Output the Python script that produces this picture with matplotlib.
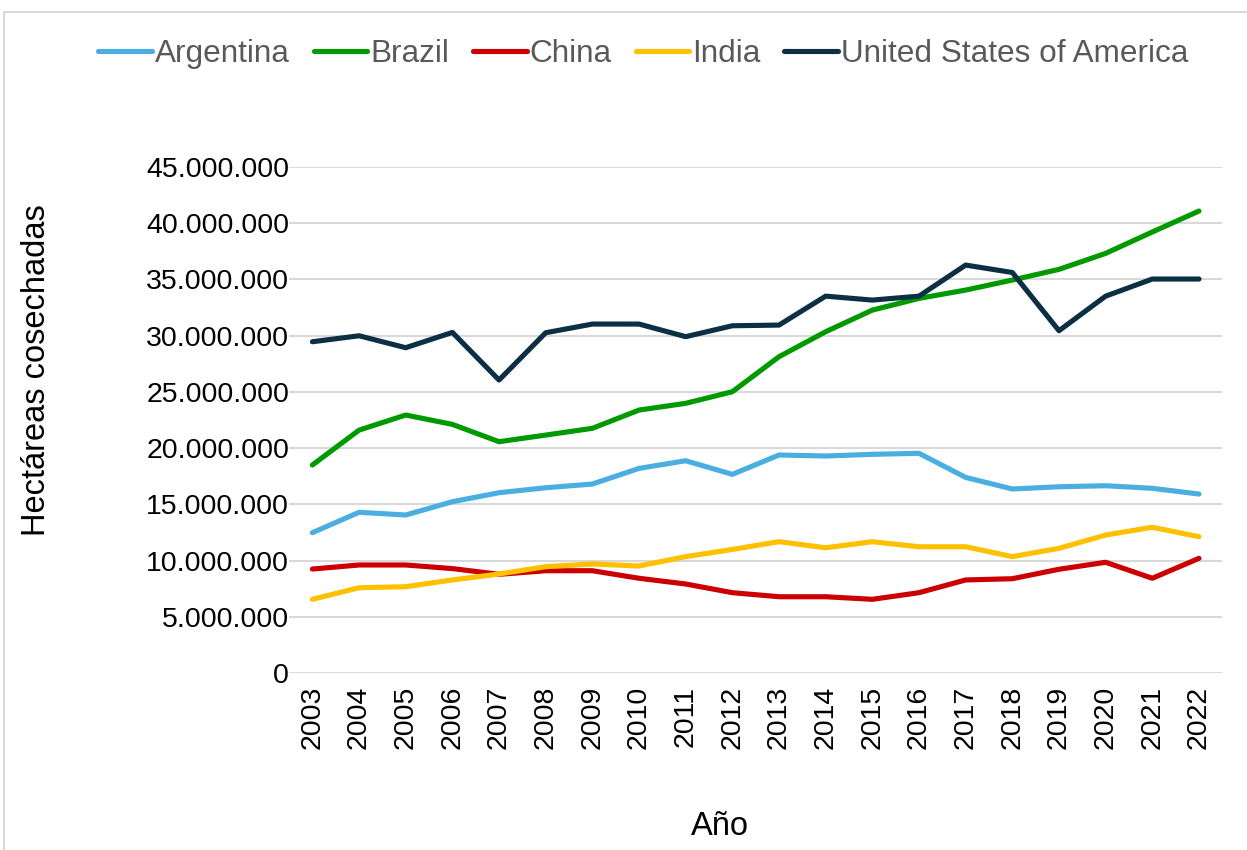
import matplotlib
matplotlib.use("Agg")
import matplotlib.pyplot as plt
from matplotlib.patches import Rectangle
from matplotlib.ticker import FuncFormatter

plt.rcParams['font.family'] = ['Liberation Sans', 'DejaVu Sans']

years = list(range(2003, 2023))

argentina = [12.49, 14.30, 14.06, 15.24, 16.04, 16.48, 16.81, 18.20, 18.88, 17.67,
             19.39, 19.30, 19.45, 19.54, 17.40, 16.37, 16.57, 16.66, 16.43, 15.92]
brazil = [18.50, 21.60, 22.94, 22.11, 20.57, 21.16, 21.76, 23.38, 23.98, 25.01,
          28.12, 30.34, 32.26, 33.30, 34.04, 34.93, 35.88, 37.30, 39.20, 41.06]
china = [9.26, 9.62, 9.62, 9.30, 8.79, 9.11, 9.11, 8.44, 7.93, 7.16,
         6.80, 6.80, 6.57, 7.16, 8.29, 8.40, 9.24, 9.86, 8.44, 10.21]
india = [6.57, 7.60, 7.69, 8.29, 8.82, 9.47, 9.71, 9.53, 10.36, 11.00,
         11.69, 11.15, 11.69, 11.24, 11.24, 10.36, 11.10, 12.28, 12.97, 12.13]
usa = [29.45, 29.98, 28.92, 30.28, 26.05, 30.25, 31.02, 31.02, 29.90, 30.87,
       30.93, 33.50, 33.15, 33.50, 36.26, 35.60, 30.43, 33.50, 35.02, 35.02]

series = [
    ("Argentina", argentina, "#4aafe0"),
    ("Brazil", brazil, "#009a00"),
    ("China", china, "#cc0000"),
    ("India", india, "#ffc000"),
    ("United States of America", usa, "#0d2f44"),
]

fig = plt.figure(figsize=(12.47, 8.5), dpi=100)

# outer frame of the chart area
fig.patches.append(Rectangle((4 / 1247, -0.01), 1.02, (850 - 12) / 850 + 0.01,
                             transform=fig.transFigure, fill=False,
                             edgecolor="#d9d9d9", linewidth=1.5))

ax = fig.add_axes([0.2318, 0.2079, 0.7484, 0.596])

x = list(range(len(years)))
for name, vals, color in series:
    ax.plot(x, [v * 1e6 for v in vals], color=color, linewidth=3.7,
            solid_capstyle="round", solid_joinstyle="round", label=name)

ax.set_xlim(-0.5, len(years) - 0.5)
ax.set_ylim(0, 45e6)
ax.set_yticks([i * 5e6 for i in range(10)])
ax.yaxis.set_major_formatter(FuncFormatter(lambda v, p: f"{int(v):,}".replace(",", ".")))
ax.set_xticks(x)
ax.set_xticklabels([str(y) for y in years], rotation=90)

ax.grid(axis="y", color="#d9d9d9", linewidth=1.5)
ax.set_axisbelow(True)
for s in ax.spines.values():
    s.set_visible(False)
ax.tick_params(axis="both", length=0, labelsize=20.5, colors="#000000")
ax.tick_params(axis="y", pad=0)
ax.tick_params(axis="x", pad=9)

ax.set_ylabel("Hectáreas cosechadas", fontsize=23.5)
ax.yaxis.set_label_coords(-0.254, 0.599)
ax.set_xlabel("Año", fontsize=23.5)
ax.xaxis.set_label_coords(0.462, -0.272)

leg = fig.legend(loc="center", bbox_to_anchor=(0.516, 0.937), ncol=5, frameon=False,
                 fontsize=22.7, handlelength=1.7, handletextpad=0.1, columnspacing=0.75)
for t in leg.get_texts():
    t.set_color("#595959")

fig.savefig("out.png", dpi=100)
